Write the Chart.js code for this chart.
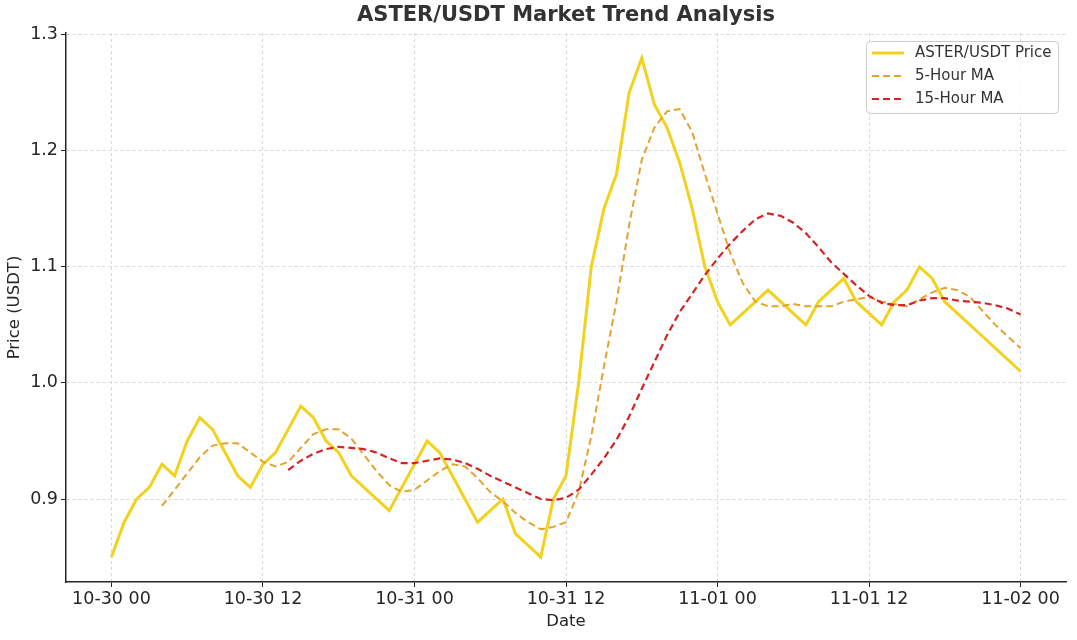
<!DOCTYPE html>
<html>
<head>
<meta charset="utf-8">
<script src="https://cdn.jsdelivr.net/npm/chart.js@4.4.1/dist/chart.umd.min.js"></script>
<style>
  body { margin: 0; background: #fff; }
  #wrap { width: 1077px; height: 640px; }
</style>
</head>
<body>
<div id="wrap"><canvas id="myChart"></canvas></div>
<script>
// hourly data, hour 0 = 10-30 00
const tickHours = [0, 12, 24, 36, 48, 60, 72];
const tickLabels = ["10-30 00", "10-30 12", "10-31 00", "10-31 12", "11-01 00", "11-01 12", "11-02 00"];
const yTicks = [0.9, 1.0, 1.1, 1.2, 1.3];

const price = [
  0.85, 0.88, 0.90, 0.91, 0.93, 0.92, 0.95, 0.97, 0.96, 0.94, 0.92, 0.91,
  0.93, 0.94, 0.96, 0.98, 0.97, 0.95, 0.94, 0.92, 0.91, 0.90, 0.89, 0.91,
  0.93, 0.95, 0.94, 0.92, 0.90, 0.88, 0.89, 0.90, 0.87, 0.86, 0.85, 0.90,
  0.92, 1.00, 1.10, 1.15, 1.18, 1.25, 1.28, 1.24, 1.22, 1.19, 1.15, 1.10,
  1.07, 1.05, 1.06, 1.07, 1.08, 1.07, 1.06, 1.05, 1.07, 1.08, 1.09, 1.07,
  1.06, 1.05, 1.07, 1.08, 1.10, 1.09, 1.07, 1.06, 1.05, 1.04, 1.03, 1.02,
  1.01
];

const ma5Start = 4;
const ma5 = [
  0.894, 0.908, 0.922, 0.936, 0.946, 0.948, 0.948, 0.940, 0.932, 0.928, 0.932, 0.944, 0.956, 0.960, 0.960,
  0.952, 0.938, 0.924, 0.912, 0.906, 0.908, 0.916, 0.924, 0.930, 0.928, 0.918, 0.906, 0.898, 0.888, 0.880,
  0.874, 0.876, 0.880,
  0.906, 0.954, 1.014, 1.070, 1.136, 1.192, 1.220, 1.234, 1.236, 1.216, 1.180, 1.146, 1.112, 1.086, 1.070,
  1.066, 1.066, 1.068, 1.066, 1.066, 1.066, 1.070, 1.072, 1.074, 1.070, 1.068, 1.066, 1.072, 1.078, 1.082,
  1.080, 1.074, 1.062, 1.050, 1.040, 1.030
];

const ma15Start = 14;
const ma15 = [
  0.925, 0.933, 0.939, 0.943, 0.945, 0.944, 0.943, 0.940, 0.935, 0.931,
  0.931, 0.933, 0.935, 0.934, 0.931, 0.926, 0.920, 0.915, 0.910, 0.905,
  0.900, 0.899, 0.901, 0.908, 0.921, 0.935, 0.951, 0.971, 0.995, 1.018,
  1.041, 1.061, 1.077, 1.093, 1.107, 1.120, 1.131, 1.141, 1.146, 1.144,
  1.138, 1.129, 1.117, 1.104, 1.094, 1.084, 1.075, 1.069, 1.067, 1.067,
  1.071, 1.073, 1.073, 1.071, 1.070, 1.069, 1.067, 1.064, 1.059
];

const FONT = "'DejaVu Sans', sans-serif";
const TEXT = "#262626";

const toPoints = (arr, start) => arr.map((v, i) => ({ x: start + i, y: v }));

// title centred over the plot area
const titlePlugin = {
  id: "plotTitle",
  afterDraw(chart) {
    const { ctx, chartArea } = chart;
    ctx.save();
    ctx.font = "bold 21px " + FONT;
    ctx.fillStyle = "#333333";
    ctx.textAlign = "center";
    ctx.textBaseline = "middle";
    ctx.fillText("ASTER/USDT Market Trend Analysis", (chartArea.left + chartArea.right) / 2, 16);
    ctx.restore();
  },
};

// legend box in the upper right of the plot
const legendPlugin = {
  id: "boxLegend",
  afterDatasetsDraw(chart) {
    const { ctx, chartArea } = chart;
    const x = chartArea.right - 200;
    const y = chartArea.top + 8;
    ctx.save();
    ctx.beginPath();
    ctx.roundRect(x + 0.5, y + 0.5, 192, 72, 4);
    ctx.fillStyle = "rgba(255,255,255,0.85)";
    ctx.fill();
    ctx.strokeStyle = "#cccccc";
    ctx.lineWidth = 1;
    ctx.stroke();
    chart.data.datasets.forEach((ds, i) => {
      const ly = y + 12 + i * 23;
      ctx.beginPath();
      ctx.setLineDash(ds.borderDash || []);
      ctx.strokeStyle = ds.borderColor;
      ctx.lineWidth = ds.borderWidth;
      ctx.moveTo(x + 6, ly);
      ctx.lineTo(x + 38, ly);
      ctx.stroke();
      ctx.setLineDash([]);
      ctx.font = "15px " + FONT;
      ctx.fillStyle = "#333333";
      ctx.textBaseline = "middle";
      ctx.fillText(ds.label, x + 49, ly);
    });
    ctx.restore();
  },
};

const gridOpts = {
  color: "#cfcfcf",
  lineWidth: 0.8,
  tickLength: 5,
  tickColor: TEXT,
  tickBorderDash: [],
  tickWidth: 1,
};

new Chart(document.getElementById("myChart"), {
  type: "line",
  data: {
    datasets: [
      {
        label: "ASTER/USDT Price",
        data: toPoints(price, 0),
        borderColor: "#f2d21e",
        borderWidth: 3,
        order: 3,
      },
      {
        label: "5-Hour MA",
        data: toPoints(ma5, ma5Start),
        borderColor: "#e3a331",
        borderWidth: 2,
        borderDash: [7, 4],
        order: 2,
      },
      {
        label: "15-Hour MA",
        data: toPoints(ma15, ma15Start),
        borderColor: "#d42426",
        borderWidth: 2.2,
        borderDash: [7, 4],
        order: 1,
      },
    ],
  },
  options: {
    responsive: true,
    maintainAspectRatio: false,
    animation: false,
    layout: { padding: { top: 33, right: 11, left: 0, bottom: 0 } },
    elements: { point: { radius: 0 }, line: { tension: 0, fill: false } },
    plugins: {
      legend: { display: false },
      tooltip: { enabled: false },
      title: { display: false },
    },
    scales: {
      x: {
        type: "linear",
        min: -3.6,
        max: 75.6,
        afterBuildTicks: (scale) => {
          scale.ticks = tickHours.map((v) => ({ value: v }));
        },
        afterFit: (scale) => {
          scale.height = 58;
        },
        ticks: {
          autoSkip: false,
          maxRotation: 0,
          padding: 2,
          color: TEXT,
          font: { family: FONT, size: 17.5 },
          callback: (v) => tickLabels[tickHours.indexOf(v)],
        },
        grid: gridOpts,
        border: { display: true, color: TEXT, width: 1.5, dash: [3, 3] },
        title: {
          display: true,
          text: "Date",
          color: TEXT,
          font: { family: FONT, size: 16.5 },
          padding: { top: 0, bottom: 8 },
        },
      },
      y: {
        type: "linear",
        min: 0.8285,
        max: 1.3015,
        afterBuildTicks: (scale) => {
          scale.ticks = yTicks.map((v) => ({ value: v }));
        },
        afterFit: (scale) => {
          scale.width = 66;
        },
        ticks: {
          padding: 3,
          color: TEXT,
          font: { family: FONT, size: 17.5 },
          callback: (v) => v.toFixed(1),
        },
        grid: gridOpts,
        border: { display: true, color: TEXT, width: 1.5, dash: [3, 3] },
        title: {
          display: true,
          text: "Price (USDT)",
          color: TEXT,
          font: { family: FONT, size: 16.5 },
          padding: { top: 5, bottom: 0 },
        },
      },
    },
  },
  plugins: [titlePlugin, legendPlugin],
});
</script>
</body>
</html>
